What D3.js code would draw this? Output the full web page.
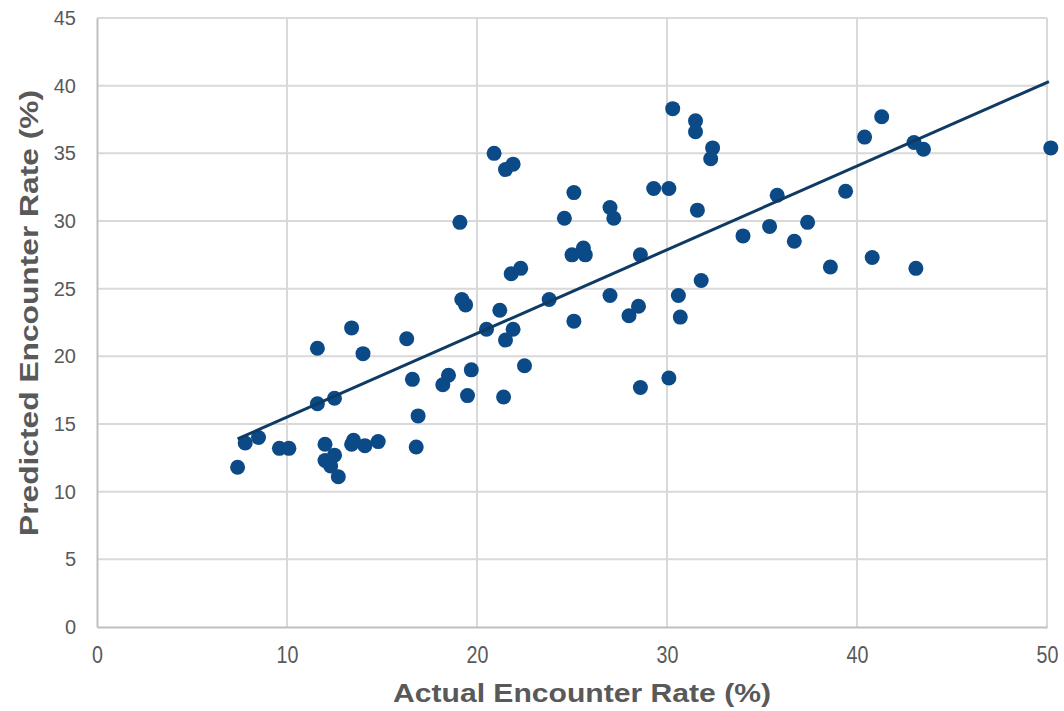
<!DOCTYPE html>
<html>
<head>
<meta charset="utf-8">
<script src="https://cdn.jsdelivr.net/npm/d3@7"></script>
<style>
  body { margin: 0; background: #fff; }
  text { font-family: "Liberation Sans", Arial, sans-serif; }
</style>
</head>
<body>
<script>
const w = 1064;
const h = 711;

// actual vs predicted encounter rate (%)
const actual = [7.4, 7.8, 8.5, 9.6, 10.1, 11.6, 11.6, 12.0, 12.0, 12.3, 12.5, 12.5, 12.7, 13.4, 13.5,
  13.4, 14.0, 14.1, 14.8, 16.3, 16.6, 16.8, 16.9, 18.2, 18.5, 19.1, 19.2, 19.4, 19.5, 19.7,
  20.5, 20.9, 21.2, 21.5, 21.9, 21.5, 21.9, 21.4, 21.8, 22.3, 22.5, 23.8, 24.6, 25.1, 25.0,
  25.6, 25.7, 25.1, 27.0, 27.2, 27.0, 28.5, 28.0, 28.6, 28.6, 29.3, 30.1, 30.3, 30.1, 30.6,
  30.7, 31.5, 31.5, 31.6, 31.8, 32.4, 32.3, 34.0, 35.4, 35.8, 36.7, 37.4, 38.6, 39.4, 40.4,
  40.8, 41.3, 43.0, 43.5, 43.1, 50.2];
const predicted = [11.8, 13.6, 14.0, 13.2, 13.2, 20.6, 16.5, 13.5, 12.3, 11.9, 16.9, 12.7, 11.1, 13.5, 13.8,
  22.1, 20.2, 13.4, 13.7, 21.3, 18.3, 13.3, 15.6, 17.9, 18.6, 29.9, 24.2, 23.8, 17.1, 19.0,
  22.0, 35.0, 23.4, 33.8, 34.2, 21.2, 22.0, 17.0, 26.1, 26.5, 19.3, 24.2, 30.2, 32.1, 27.5,
  28.0, 27.5, 22.6, 31.0, 30.2, 24.5, 23.7, 23.0, 27.5, 17.7, 32.4, 32.4, 38.3, 18.4, 24.5,
  22.9, 37.4, 36.6, 30.8, 25.6, 35.4, 34.6, 28.9, 29.6, 31.9, 28.5, 29.9, 26.6, 32.2, 36.2,
  27.3, 37.7, 35.8, 35.3, 26.5, 35.4];

// linear trendline end points
const trendX = [7.4, 50.1];
const trendY = [13.9, 40.3];

const xTicks = [0, 10, 20, 30, 40, 50];
const yTicks = [0, 5, 10, 15, 20, 25, 30, 35, 40, 45];

const margin = { left: 97, right: 17, top: 18, bottom: 84 };

const svg = d3.select("body")
  .append("svg")
  .attr("width", w)
  .attr("height", h);

const x = d3.scaleLinear().domain([0, 50]).range([margin.left, w - margin.right]);
const y = d3.scaleLinear().domain([0, 45]).range([h - margin.bottom, margin.top]);

// gridlines
svg.append("g")
  .selectAll("line")
  .data(yTicks.slice(1))
  .enter()
  .append("line")
  .attr("x1", x(0))
  .attr("x2", x(50))
  .attr("y1", d => y(d))
  .attr("y2", d => y(d))
  .attr("stroke", "#d9d9d9")
  .attr("stroke-width", 2);

svg.append("g")
  .selectAll("line")
  .data(xTicks.slice(1))
  .enter()
  .append("line")
  .attr("x1", d => x(d))
  .attr("x2", d => x(d))
  .attr("y1", y(0))
  .attr("y2", y(45))
  .attr("stroke", "#d9d9d9")
  .attr("stroke-width", 2);

// axes
const xAxis = svg.append("g")
  .attr("transform", "translate(0," + y(0) + ")")
  .call(d3.axisBottom(x).tickValues(xTicks).tickSize(0).tickPadding(19));
const yAxis = svg.append("g")
  .attr("transform", "translate(" + x(0) + ",0)")
  .call(d3.axisLeft(y).tickValues(yTicks).tickSize(0).tickPadding(21));

[xAxis, yAxis].forEach(a => {
  a.select(".domain").attr("stroke", "#bfbfbf").attr("stroke-width", 2);
  a.selectAll("text")
    .style("font-family", "'Liberation Sans', Arial, sans-serif")
    .style("font-size", "20px")
    .attr("fill", "#595959");
});
// x labels in the original are taller and squeezed
xAxis.selectAll("text")
  .style("font-size", "24px")
  .attr("transform", "scale(0.82,1)");

// points
svg.append("g")
  .selectAll("circle")
  .data(actual.map((a, i) => [a, predicted[i]]))
  .enter()
  .append("circle")
  .attr("cx", d => x(d[0]))
  .attr("cy", d => y(d[1]))
  .attr("r", 7.5)
  .attr("fill", "#0b4a86");

// trendline
svg.append("line")
  .attr("x1", x(trendX[0]))
  .attr("y1", y(trendY[0]))
  .attr("x2", x(trendX[1]))
  .attr("y2", y(trendY[1]))
  .attr("stroke", "#0e3a63")
  .attr("stroke-width", 3);

// axis titles
svg.append("text")
  .attr("x", 582)
  .attr("y", 702)
  .attr("text-anchor", "middle")
  .attr("textLength", 378)
  .attr("lengthAdjust", "spacingAndGlyphs")
  .style("font-size", "26px")
  .style("font-weight", "bold")
  .attr("fill", "#595959")
  .text("Actual Encounter Rate (%)");

svg.append("text")
  .attr("transform", "translate(38,313) rotate(-90)")
  .attr("text-anchor", "middle")
  .attr("textLength", 446)
  .attr("lengthAdjust", "spacingAndGlyphs")
  .style("font-size", "25px")
  .style("font-weight", "bold")
  .attr("fill", "#595959")
  .text("Predicted Encounter Rate (%)");
</script>
</body>
</html>
